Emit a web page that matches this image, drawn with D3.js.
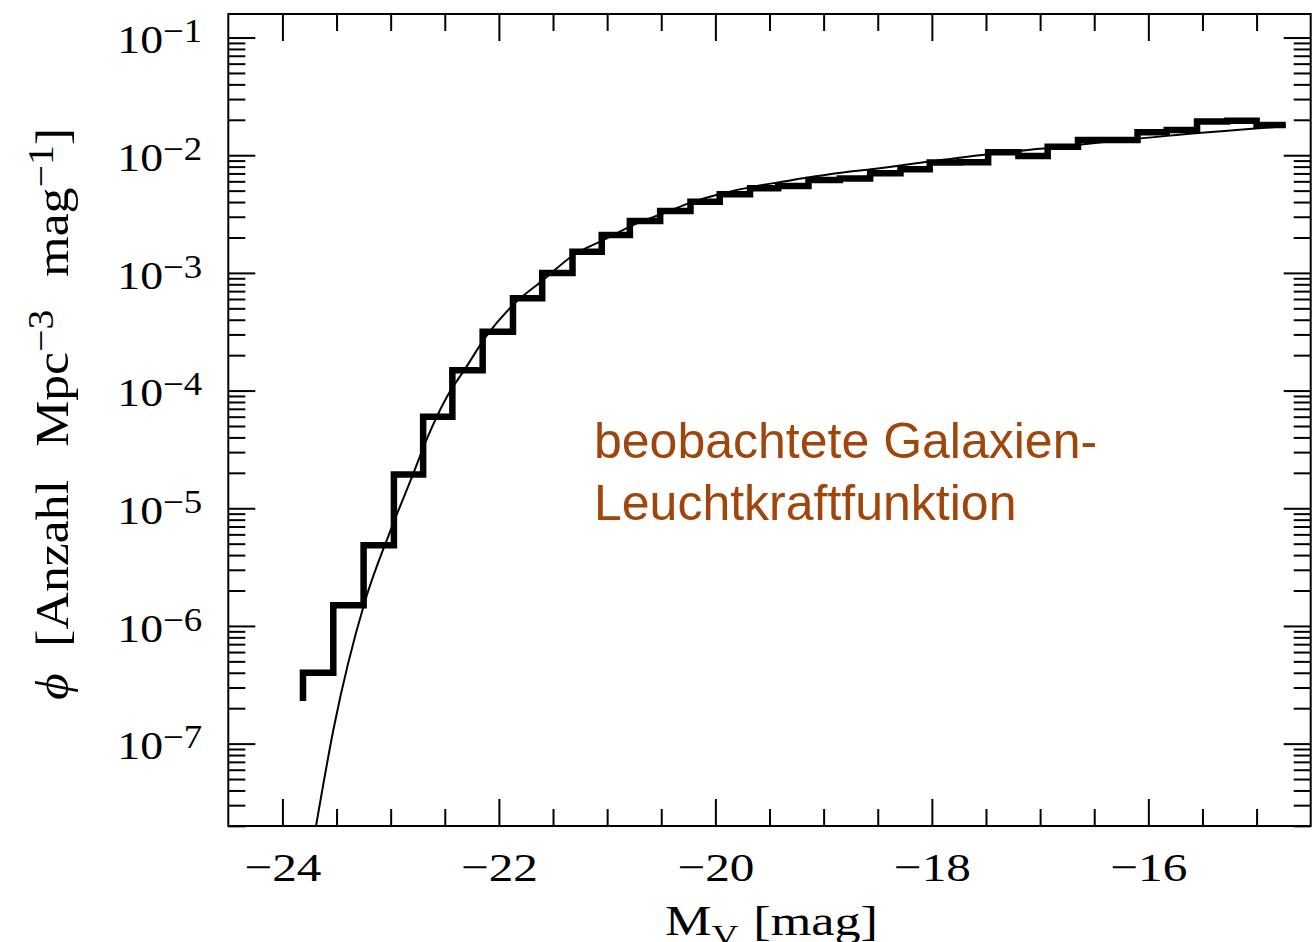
<!DOCTYPE html>
<html>
<head>
<meta charset="utf-8">
<script src="https://cdn.jsdelivr.net/npm/d3@7"></script>
<style>
  html, body { margin: 0; padding: 0; background: #fff; }
  svg { display: block; }
</style>
</head>
<body>
<svg id="chart" width="1315" height="942"></svg>
<script>
// Binned luminosity function: bin edges in M_V [mag] and number density per bin
const binEdges = [-23.81, -23.53, -23.25, -22.97, -22.70, -22.43, -22.15, -21.87, -21.60, -21.32,
                  -21.05, -20.79, -20.51, -20.23, -19.96, -19.68, -19.42, -19.14, -18.85, -18.57,
                  -18.29, -18.02, -17.74, -17.48, -17.20, -16.93, -16.65, -16.37, -16.10, -15.83,
                  -15.55, -15.27, -15.00, -14.73];
const binPhi = [4.0e-7, 1.5e-6, 4.85e-6, 1.94e-5, 5.98e-5, 1.49e-4, 3.16e-4, 6.08e-4, 1.0e-3, 1.51e-3,
                2.1e-3, 2.76e-3, 3.36e-3, 4.03e-3, 4.66e-3, 5.24e-3, 5.48e-3, 6.16e-3, 6.35e-3, 7.03e-3,
                7.6e-3, 8.67e-3, 8.7e-3, 1.06e-2, 9.86e-3, 1.18e-2, 1.35e-2, 1.35e-2, 1.57e-2, 1.64e-2,
                1.93e-2, 1.96e-2, 1.81e-2];
const binStartPhi = 2.3e-7;

// Fitted (Schechter-type) curve, sampled points
const fitM = [-23.69, -23.53, -23.24, -23.00, -22.79, -22.67, -22.48, -22.30, -22.13, -21.87,
              -21.59, -21.31, -21.03, -20.76, -20.48, -20.20, -19.93, -19.65, -19.37, -19.09,
              -18.82, -18.54, -18.02, -17.48, -16.93, -15.83, -14.73];
const fitPhi = [1.98e-8, 1.30e-7, 1.59e-6, 6.52e-6, 1.98e-5, 3.79e-5, 8.85e-5, 1.59e-4, 2.79e-4, 5.33e-4,
                8.71e-4, 1.42e-3, 1.91e-3, 2.55e-3, 3.21e-3, 4.03e-3, 4.75e-3, 5.41e-3, 5.97e-3, 6.58e-3,
                7.14e-3, 7.64e-3, 8.83e-3, 1.02e-2, 1.15e-2, 1.46e-2, 1.76e-2];

// Axis ticks
const xMajorTicks = [-24, -22, -20, -18, -16];
const xMinorTicks = [-23.5, -23, -22.5, -21.5, -21, -20.5, -19.5, -19, -18.5, -17.5, -17, -16.5, -15.5, -15];
const yExponents = [-7, -6, -5, -4, -3, -2, -1];

const noteLines = ["beobachtete Galaxien-", "Leuchtkraftfunktion"];

const svg = d3.select("#chart");
const plot = { left: 228.3, right: 1310.7, top: 14, bottom: 826 };
const serif = "'Liberation Serif', 'Times New Roman', serif";
const sans = "'Liberation Sans', Arial, Helvetica, sans-serif";

const x = d3.scaleLinear().domain([-24.5, -14.5]).range([plot.left, plot.right]);
const y = d3.scaleLog().domain([Math.pow(10, -7.7), Math.pow(10, -0.8)]).range([plot.bottom, plot.top]);

const yMajor = yExponents.map(e => Math.pow(10, e));
const yMinor = y.ticks().filter(v => Math.abs(Math.log10(v) - Math.round(Math.log10(v))) > 1e-6);

function styleTicks(g) {
  g.select(".domain").remove();
  g.selectAll(".tick line").attr("stroke", "#000").attr("stroke-width", 2);
}

// Bottom axis
svg.append("g").attr("transform", `translate(0,${plot.bottom})`)
  .call(d3.axisBottom(x).tickValues(xMinorTicks).tickSize(-17).tickFormat(""))
  .call(styleTicks);
const xBottom = svg.append("g").attr("transform", `translate(0,${plot.bottom})`)
  .call(d3.axisBottom(x).tickValues(xMajorTicks).tickSize(-27).tickPadding(26)
        .tickFormat(d => "\u2212" + Math.abs(d)))
  .call(styleTicks);
xBottom.selectAll(".tick text")
  .attr("font-family", serif).attr("font-size", 41).attr("fill", "#000")
  .attr("textLength", 77).attr("lengthAdjust", "spacingAndGlyphs");

// Top axis (ticks only)
svg.append("g").attr("transform", `translate(0,${plot.top})`)
  .call(d3.axisTop(x).tickValues(xMinorTicks).tickSize(-17).tickFormat(""))
  .call(styleTicks);
svg.append("g").attr("transform", `translate(0,${plot.top})`)
  .call(d3.axisTop(x).tickValues(xMajorTicks).tickSize(-27).tickFormat(""))
  .call(styleTicks);

// Left axis
svg.append("g").attr("transform", `translate(${plot.left},0)`)
  .call(d3.axisLeft(y).tickValues(yMinor).tickSize(-17).tickFormat(""))
  .call(styleTicks);
const yLeft = svg.append("g").attr("transform", `translate(${plot.left},0)`)
  .call(d3.axisLeft(y).tickValues(yMajor).tickSize(-27).tickPadding(26).tickFormat(""))
  .call(styleTicks);
yLeft.selectAll(".tick text").each(function (d) {
  const t = d3.select(this);
  t.text(null)
    .attr("font-family", serif).attr("font-size", 41).attr("fill", "#000")
    .attr("dy", "0.37em")
    .attr("textLength", 85).attr("lengthAdjust", "spacingAndGlyphs");
  t.append("tspan").text("10");
  t.append("tspan").attr("dy", -11).attr("font-size", 33)
    .text("\u2212" + Math.abs(Math.round(Math.log10(d))));
});

// Right axis (ticks only)
svg.append("g").attr("transform", `translate(${plot.right},0)`)
  .call(d3.axisRight(y).tickValues(yMinor).tickSize(-17).tickFormat(""))
  .call(styleTicks);
svg.append("g").attr("transform", `translate(${plot.right},0)`)
  .call(d3.axisRight(y).tickValues(yMajor).tickSize(-27).tickFormat(""))
  .call(styleTicks);

// Plot frame
svg.append("rect")
  .attr("x", plot.left).attr("y", plot.top)
  .attr("width", plot.right - plot.left).attr("height", plot.bottom - plot.top)
  .attr("fill", "none").attr("stroke", "#000").attr("stroke-width", 2);

svg.append("clipPath").attr("id", "plot-clip")
  .append("rect")
  .attr("x", plot.left).attr("y", plot.top)
  .attr("width", plot.right - plot.left).attr("height", plot.bottom - plot.top);

const layer = svg.append("g").attr("clip-path", "url(#plot-clip)");

// Fitted curve (thin line)
const fitPts = fitM.map((m, i) => [m, fitPhi[i]]);
layer.append("path")
  .attr("d", d3.line().x(d => x(d[0])).y(d => y(d[1])).curve(d3.curveMonotoneX)(fitPts))
  .attr("fill", "none").attr("stroke", "#000").attr("stroke-width", 2);

// Histogram (thick step line)
const histPts = [[binEdges[0], binStartPhi]];
binPhi.forEach((v, i) => histPts.push([binEdges[i], v]));
histPts.push([binEdges[binEdges.length - 1], binPhi[binPhi.length - 1]]);
layer.append("path")
  .attr("d", d3.line().x(d => x(d[0])).y(d => y(d[1])).curve(d3.curveStepAfter)(histPts))
  .attr("fill", "none").attr("stroke", "#000").attr("stroke-width", 6.5)
  .attr("stroke-linejoin", "miter").attr("stroke-linecap", "butt");

// X axis title
const xt = svg.append("text")
  .attr("x", 771.5).attr("y", 935).attr("text-anchor", "middle")
  .attr("font-family", serif).attr("font-size", 42).attr("fill", "#000")
  .attr("textLength", 213).attr("lengthAdjust", "spacingAndGlyphs");
xt.append("tspan").text("M");
xt.append("tspan").attr("dy", 10).attr("font-size", 30).text("V");
xt.append("tspan").attr("dy", -10).attr("dx", 12).text("[mag]");

// Y axis title
const yt = svg.append("text")
  .attr("transform", "translate(68,414) rotate(-90)")
  .attr("text-anchor", "middle")
  .attr("font-family", serif).attr("font-size", 47).attr("fill", "#000")
  .attr("textLength", 572).attr("lengthAdjust", "spacingAndGlyphs");
yt.append("tspan").attr("font-style", "italic").text("\u03D5");
yt.append("tspan").attr("dx", 24).text("[Anzahl");
yt.append("tspan").attr("dx", 30).text("Mpc");
yt.append("tspan").attr("dy", -15).attr("font-size", 36).text("\u22123");
yt.append("tspan").attr("dy", 15).attr("dx", 30).text("mag");
yt.append("tspan").attr("dy", -15).attr("font-size", 36).text("\u22121");
yt.append("tspan").attr("dy", 15).text("]");

// Annotation
const note = svg.append("text")
  .attr("font-family", sans).attr("font-size", 50).attr("fill", "#a0460c");
noteLines.forEach((line, i) => {
  note.append("tspan").attr("x", 594).attr("y", 458 + i * 62).text(line);
});
</script>
</body>
</html>
